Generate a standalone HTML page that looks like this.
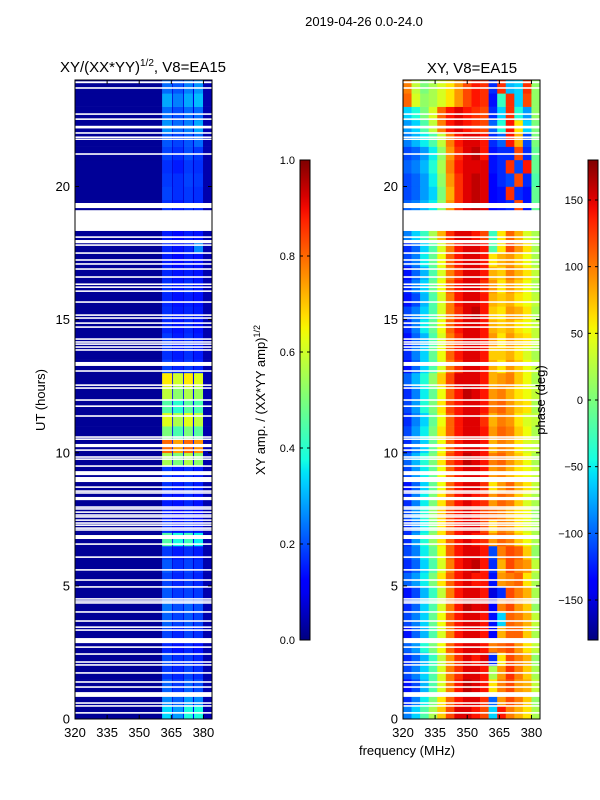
<!DOCTYPE html>
<html><head><meta charset="utf-8"><style>
html,body{margin:0;padding:0;background:#fff;}
svg{display:block;font-family:"Liberation Sans","DejaVu Sans",sans-serif;}
</style></head><body>
<svg id="fig" width="600" height="800" viewBox="0 0 600 800" xmlns="http://www.w3.org/2000/svg">
<defs><linearGradient id="jetg" x1="0" y1="1" x2="0" y2="0"></linearGradient></defs>
<rect width="600" height="800" fill="#fff"/>
<text x="364" y="26" font-size="13" text-anchor="middle">2019-04-26 0.0-24.0</text>
<text x="143" y="72" font-size="15" text-anchor="middle">XY/(XX*YY)<tspan font-size="10" dy="-6">1/2</tspan><tspan dy="6">, V8=EA15</tspan></text>
<text x="472" y="73" font-size="15" text-anchor="middle">XY, V8=EA15</text>
<g id="ampPanel"></g>
<g id="phPanel"></g>
<g id="axes"></g>
<text transform="translate(45,400) rotate(-90)" font-size="13" text-anchor="middle">UT (hours)</text>
<text x="407" y="755" font-size="13" text-anchor="middle">frequency (MHz)</text>
<text transform="translate(265,400) rotate(-90)" font-size="13" text-anchor="middle">XY amp. / (XX*YY amp)<tspan font-size="9" dy="-5">1/2</tspan></text>
<text transform="translate(545,400) rotate(-90)" font-size="13" text-anchor="middle">phase (deg)</text>
</svg>
<script>
const ampFreqEdges = [320, 360.7, 365.4, 365.8, 370.5, 370.9, 375.1, 375.6, 379.8, 384];
const timeStep = 0.5;
const ampValues = [
[0.02,0.34,0.10,0.28,0.10,0.38,0.10,0.38,0.04],
[0.02,0.26,0.08,0.22,0.08,0.28,0.08,0.26,0.04],
[0.02,0.22,0.08,0.18,0.08,0.22,0.08,0.20,0.04],
[0.02,0.18,0.07,0.16,0.07,0.19,0.07,0.17,0.04],
[0.02,0.20,0.07,0.17,0.07,0.18,0.07,0.16,0.04],
[0.02,0.16,0.07,0.14,0.07,0.16,0.07,0.14,0.04],
[0.02,0.19,0.07,0.16,0.07,0.19,0.07,0.17,0.04],
[0.02,0.22,0.08,0.19,0.08,0.21,0.08,0.19,0.04],
[0.02,0.24,0.08,0.20,0.08,0.22,0.08,0.20,0.04],
[0.02,0.21,0.08,0.18,0.08,0.19,0.08,0.18,0.04],
[0.02,0.19,0.07,0.16,0.07,0.18,0.07,0.16,0.04],
[0.02,0.21,0.07,0.17,0.07,0.19,0.07,0.17,0.04],
[0.02,0.18,0.07,0.15,0.07,0.17,0.07,0.15,0.04],
[0.02,0.45,0.10,0.38,0.10,0.42,0.10,0.36,0.04],
[0.02,0.17,0.07,0.14,0.07,0.16,0.07,0.14,0.04],
[0.02,0.15,0.07,0.13,0.07,0.15,0.07,0.13,0.04],
[0.02,0.15,0.07,0.14,0.07,0.16,0.07,0.14,0.04],
[0.02,0.17,0.07,0.15,0.07,0.17,0.07,0.15,0.04],
[0.02,0.18,0.07,0.15,0.07,0.17,0.07,0.15,0.04],
[0.02,0.55,0.12,0.50,0.12,0.56,0.12,0.52,0.04],
[0.02,0.80,0.15,0.74,0.15,0.80,0.15,0.76,0.04],
[0.02,0.50,0.12,0.44,0.12,0.50,0.12,0.46,0.04],
[0.02,0.62,0.13,0.56,0.13,0.62,0.13,0.58,0.04],
[0.02,0.45,0.12,0.40,0.12,0.46,0.12,0.44,0.04],
[0.02,0.58,0.13,0.52,0.13,0.56,0.13,0.54,0.04],
[0.02,0.66,0.13,0.60,0.13,0.66,0.13,0.62,0.04],
[0.02,0.19,0.07,0.16,0.07,0.18,0.07,0.16,0.04],
[0.02,0.17,0.07,0.15,0.07,0.17,0.07,0.15,0.04],
[0.02,0.18,0.07,0.15,0.07,0.17,0.07,0.15,0.04],
[0.02,0.16,0.07,0.14,0.07,0.16,0.07,0.14,0.04],
[0.02,0.17,0.07,0.15,0.07,0.16,0.07,0.15,0.04],
[0.02,0.16,0.07,0.14,0.07,0.15,0.07,0.14,0.04],
[0.02,0.17,0.07,0.15,0.07,0.17,0.07,0.15,0.04],
[0.02,0.16,0.07,0.14,0.07,0.15,0.07,0.14,0.04],
[0.02,0.15,0.07,0.13,0.07,0.15,0.07,0.14,0.04],
[0.02,0.16,0.07,0.14,0.07,0.16,0.07,0.26,0.04],
[0.02,0.15,0.07,0.13,0.07,0.15,0.07,0.14,0.04],
[0.02,0.15,0.07,0.13,0.07,0.15,0.07,0.14,0.04],
[0.02,0.17,0.07,0.15,0.07,0.17,0.07,0.16,0.04],
[0.02,0.19,0.07,0.17,0.07,0.18,0.07,0.17,0.04],
[0.02,0.18,0.07,0.17,0.07,0.19,0.07,0.18,0.04],
[0.02,0.17,0.07,0.15,0.07,0.18,0.07,0.17,0.04],
[0.02,0.19,0.07,0.17,0.07,0.20,0.07,0.18,0.04],
[0.02,0.21,0.08,0.19,0.08,0.21,0.08,0.23,0.04],
[0.02,0.27,0.08,0.23,0.08,0.25,0.08,0.29,0.04],
[0.02,0.23,0.08,0.20,0.08,0.23,0.08,0.23,0.04],
[0.02,0.29,0.08,0.25,0.08,0.29,0.08,0.31,0.04],
[0.02,0.23,0.08,0.21,0.08,0.25,0.08,0.27,0.04]
];
const phaseFreqEdges = [320,324,328,332,336,340,344,348,352,356,360,364,368,372,376,380,384];
const phaseValues = [
[-90,-60,-20,20,70,120,150,150,140,120,-60,140,100,80,60,20],
[-120,-90,-50,0,60,110,140,150,150,130,-100,90,120,100,70,10],
[-130,-110,-70,-20,40,100,140,160,150,140,60,100,120,90,80,30],
[-110,-90,-60,-20,40,100,130,150,150,140,20,90,130,100,70,20],
[-120,-100,-70,-30,30,90,130,150,140,150,-120,60,120,100,80,10],
[-100,-80,-40,0,50,110,140,150,150,140,100,110,120,90,60,30],
[-130,-100,-70,-20,40,100,140,150,150,140,-140,80,110,110,70,20],
[-110,-90,-60,-10,50,110,140,150,150,140,-130,-60,110,100,80,30],
[-120,-100,-60,-20,40,100,140,160,150,150,-140,100,120,90,70,10],
[-130,-110,-70,-30,30,100,140,150,150,140,-150,-120,120,100,80,20],
[-100,-80,-50,0,60,110,140,150,140,140,-130,90,100,110,60,20],
[-120,-100,-60,-20,40,100,140,150,160,140,-120,80,120,100,90,30],
[-110,-90,-50,-10,50,110,140,150,150,140,-110,100,120,110,70,10],
[-120,-80,-40,10,60,110,140,150,140,130,90,110,100,70,50,20],
[-120,-90,-50,0,60,110,140,150,150,120,70,100,90,60,40,20],
[-110,-80,-40,10,70,120,140,150,140,120,110,100,80,60,50,10],
[-120,-90,-50,0,60,110,140,150,140,130,90,110,100,70,40,20],
[-130,-100,-60,-10,50,110,140,150,150,130,60,90,110,80,60,30],
[-110,-80,-50,-10,50,110,140,150,150,140,90,100,80,60,50,30],
[-100,-70,-40,0,60,120,140,160,150,140,100,110,90,70,50,20],
[-120,-90,-60,-10,50,110,140,150,150,140,80,100,90,60,40,30],
[-110,-80,-50,0,60,110,140,150,150,140,90,110,100,70,50,20],
[-120,-90,-60,-10,50,110,140,150,150,130,80,100,90,60,40,30],
[-110,-80,-40,0,60,120,140,150,150,140,100,110,90,70,60,20],
[-120,-90,-50,-10,50,110,140,160,150,140,90,100,80,60,50,30],
[-100,-70,-40,10,70,120,150,150,150,140,80,90,100,70,50,20],
[-130,-100,-60,-20,40,100,130,150,150,140,80,60,90,70,50,30],
[-120,-90,-60,-10,50,110,140,150,150,140,70,70,80,60,40,20],
[-130,-100,-70,-20,40,100,130,150,150,140,90,60,90,70,60,30],
[-120,-90,-50,-10,50,110,140,150,150,140,80,70,80,60,50,30],
[-110,-90,-60,-20,40,100,130,150,160,140,70,60,90,80,60,20],
[-130,-110,-70,-20,40,100,140,150,150,140,80,70,80,60,50,30],
[-120,-90,-60,-10,50,110,140,150,150,130,90,60,90,70,50,20],
[-130,-100,-70,-20,40,100,130,150,150,140,80,70,100,80,60,30],
[-110,-90,-50,-10,50,110,140,150,150,140,60,80,90,70,50,20],
[-120,-100,-60,-20,40,100,140,150,150,140,-20,60,120,90,60,20],
[-90,-60,-30,20,80,130,150,150,140,120,-30,60,110,80,40,20],
[-90,-60,-30,20,80,130,150,150,140,120,-30,60,110,80,40,20],
[-100,-90,-70,-50,10,90,130,150,160,150,-140,-130,-120,120,-130,-10],
[-110,-100,-80,-60,0,80,130,150,160,150,-140,-130,130,-120,-130,-10],
[-110,-100,-80,-50,10,90,130,150,160,150,-140,-120,-110,120,-120,-20],
[-100,-90,-70,-40,20,100,140,150,150,150,-130,-120,130,-110,140,-10],
[-110,-100,-80,-50,10,90,130,150,160,140,-130,-120,-120,120,-120,-10],
[-90,-70,-50,-20,30,100,140,150,150,140,-120,-100,140,80,-110,0],
[-80,-60,-20,30,100,140,150,140,130,120,-100,-40,140,60,-60,0],
[-60,-40,0,40,110,140,150,140,130,120,-120,-60,130,-40,-80,10],
[110,40,10,20,40,60,90,120,140,130,-130,-30,130,-60,120,10],
[100,30,0,20,40,60,90,120,140,130,-120,130,-70,-60,130,10]
];
const flaggedIntervals = [
[23.88,23.95],[23.67,23.73],[22.69,22.75],[22.50,22.56],[22.18,22.28],[21.98,22.04],[21.82,21.88],[21.75,21.80],[21.19,21.25],
[19.19,19.38],[18.33,19.11],[18.07,18.13],[17.87,17.99],[17.77,17.83],[17.47,17.53],[17.21,17.27],[17.06,17.12],[16.87,16.93],
[16.57,16.63],[16.30,16.36],[16.19,16.25],[16.04,16.10],[15.63,15.69],[15.14,15.20],[15.03,15.09],[14.84,14.90],[14.69,14.75],
[14.24,14.30],[14.13,14.19],[14.05,14.11],[13.94,14.00],[13.83,13.89],[13.26,13.41],[13.04,13.10],[12.51,12.57],[12.40,12.46],
[11.95,12.01],[11.72,11.78],[11.35,11.41],[10.56,10.62],[10.48,10.54],[10.21,10.33],[10.07,10.13],[9.81,9.87],[9.73,9.79],
[9.47,9.53],[9.16,9.31],[8.90,9.09],[8.68,8.74],[8.53,8.59],[8.46,8.52],[8.22,8.34],[7.93,7.99],[7.86,7.92],[7.74,7.80],
[7.63,7.69],[7.56,7.62],[7.44,7.50],[7.33,7.39],[7.25,7.31],[7.14,7.20],[7.07,7.13],[6.76,6.91],[6.54,6.60],[6.05,6.11],
[5.57,5.63],[5.19,5.25],[4.93,4.99],[4.48,4.54],[4.40,4.46],[4.33,4.39],[3.99,4.05],[3.65,3.71],[3.42,3.48],[3.31,3.37],
[2.85,3.04],[2.67,2.73],[2.41,2.47],[2.11,2.17],[2.00,2.06],[1.70,1.76],[1.36,1.42],[1.17,1.23],[0.83,1.01],[0.57,0.63],
[0.46,0.52],[0.20,0.26]
];
const yTicks = [0,5,10,15,20];
const xTicks = [320,335,350,365,380];
const ampCbTicks = ["0.0","0.2","0.4","0.6","0.8","1.0"];
const phaseCbTicks = [-150,-100,-50,0,50,100,150];

const NS = "http://www.w3.org/2000/svg";
function interp(pts, t){
  for(let i=1;i<pts.length;i++){ if(t<=pts[i][0]){ const a=pts[i-1], b=pts[i]; return a[1]+(b[1]-a[1])*(t-a[0])/(b[0]-a[0]); } }
  return pts[pts.length-1][1];
}
function jet(t){
  t=Math.max(0,Math.min(1,t));
  const r=interp([[0,0],[0.35,0],[0.66,1],[0.89,1],[1,0.5]],t);
  const g=interp([[0,0],[0.125,0],[0.375,1],[0.64,1],[0.91,0],[1,0]],t);
  const b=interp([[0,0.5],[0.11,1],[0.34,1],[0.65,0],[1,0]],t);
  return "rgb("+Math.round(r*255)+","+Math.round(g*255)+","+Math.round(b*255)+")";
}
function mk(tag, attrs, parent){ const e=document.createElementNS(NS,tag); for(const k in attrs) e.setAttribute(k, attrs[k]); parent.appendChild(e); return e; }
const plotTop=80, plotBottom=719;
function yScale(h){ return plotBottom - (h/24)*(plotBottom-plotTop); }
function xScaleFor(x0,x1){ return function(f){ return x0 + (f-320)/(384-320)*(x1-x0); }; }
const panels = [
  {g:document.getElementById('ampPanel'), x0:75, x1:212, edges:ampFreqEdges, vals:ampValues, norm:function(v){return v;}, name:'amp'},
  {g:document.getElementById('phPanel'), x0:403, x1:540, edges:phaseFreqEdges, vals:phaseValues, norm:function(v){return (v+180)/360;}, name:'phase'}
];
const axesG = document.getElementById('axes');
panels.forEach(function(p){
  const xs = xScaleFor(p.x0,p.x1);
  p.vals.forEach(function(row,ri){
    const ya=yScale((ri+1)*timeStep), yb=yScale(ri*timeStep);
    row.forEach(function(v,ci){
      const xa=xs(p.edges[ci]), xb=xs(p.edges[ci+1]);
      const r=mk('rect',{x:xa.toFixed(2),y:ya.toFixed(2),width:(xb-xa+0.3).toFixed(2),height:(yb-ya+0.3).toFixed(2),fill:jet(p.norm(v))},p.g);
      
      
    });
  });
  flaggedIntervals.forEach(function(f){
    const ya=yScale(f[1]), yb=yScale(f[0]);
    const r=mk('rect',{x:p.x0,y:ya.toFixed(2),width:p.x1-p.x0,height:Math.max(1.4,yb-ya).toFixed(2),fill:'#fff'},p.g);
    
    
  });
  const fr=mk('rect',{x:p.x0,y:plotTop,width:p.x1-p.x0,height:plotBottom-plotTop,fill:'none',stroke:'#000','stroke-width':1},axesG);
  
  
  yTicks.forEach(function(t){
    const y=yScale(t);
    mk('line',{x1:p.x0,x2:p.x0+4,y1:y,y2:y,stroke:'#000'},axesG);
    mk('line',{x1:p.x1-4,x2:p.x1,y1:y,y2:y,stroke:'#000'},axesG);
    const tx=mk('text',{x:p.x0-5,y:y+4.5,'font-size':13,'text-anchor':'end'},axesG);
    tx.textContent=t;
    
    
  });
  xTicks.forEach(function(t){
    const x=xs(t);
    mk('line',{x1:x,x2:x,y1:plotBottom,y2:plotBottom-4,stroke:'#000'},axesG);
    mk('line',{x1:x,x2:x,y1:plotTop,y2:plotTop+4,stroke:'#000'},axesG);
    const tx=mk('text',{x:x,y:737,'font-size':13,'text-anchor':'middle'},axesG);
    tx.textContent=t;
    
    
  });
});
const grad=document.getElementById('jetg');
for(let i=0;i<=40;i++){ mk('stop',{offset:(i/40),'stop-color':jet(i/40)},grad); }
const cbTop=160, cbBot=640;
function colorbar(x, ticks, vmin, vmax, name){
  const r=mk('rect',{x:x,y:cbTop,width:10,height:cbBot-cbTop,fill:'url(#jetg)',stroke:'#000','stroke-width':1},axesG);
  
  
  ticks.forEach(function(t){
    const v=parseFloat(t);
    const y=cbBot-(v-vmin)/(vmax-vmin)*(cbBot-cbTop);
    mk('line',{x1:x,x2:x+3,y1:y,y2:y,stroke:'#000'},axesG);
    mk('line',{x1:x+7,x2:x+10,y1:y,y2:y,stroke:'#000'},axesG);
    const tx=mk('text',{x:x-5,y:y+4,'font-size':11,'text-anchor':'end'},axesG);
    tx.textContent=(v<0?'\u2212'+Math.abs(v):t);
    
    
  });
}
colorbar(300, ampCbTicks, 0, 1, 'amp-colorbar');
colorbar(588, phaseCbTicks.map(String), -180, 180, 'phase-colorbar');
</script>
</body></html>
